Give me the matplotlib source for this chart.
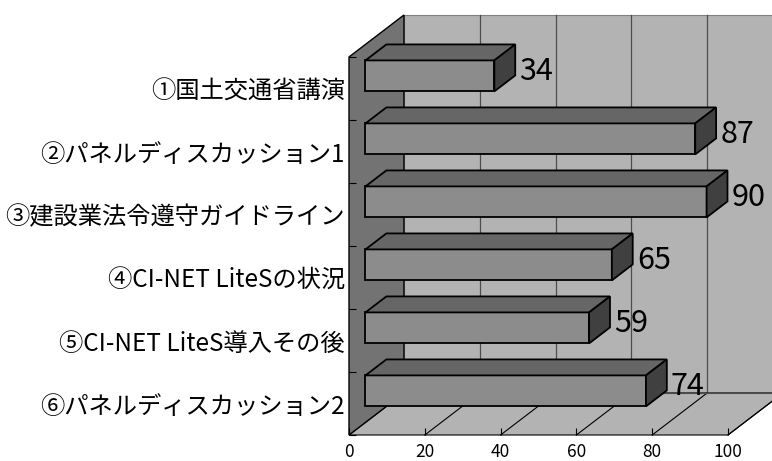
import matplotlib
matplotlib.use('Agg')
import matplotlib.pyplot as plt
from matplotlib.patches import Polygon
import numpy as np

plt.rcParams['font.family'] = ['Noto Sans CJK JP', 'DejaVu Sans']

categories = ['①国土交通省講演', '②パネルディスカッション1', '③建設業法令遵守ガイドライン',
              '④CI-NET LiteSの状況', '⑤CI-NET LiteS導入その後', '⑥パネルディスカッション2']
values = [34, 87, 90, 65, 59, 74]
xticks = [0, 20, 40, 60, 80, 100]

# oblique depth offset of the box (value units, category units)
DX, DY = 14.5, 0.667
F0, F1 = 0.3, 0.68      # front / back depth of the bars
HALF = 0.246            # half bar height

wall_left = '#737373'
wall_back = '#b3b3b3'
floor_c = '#b3b3b3'
face_front = '#8c8c8c'
face_top = '#666666'
face_side = '#404040'

fig = plt.figure(figsize=(7.72, 4.61), dpi=100)
ax = fig.add_axes([349 / 772, 26 / 461, 379 / 772, 378 / 461])
n = len(categories)
ax.set_xlim(0, 100)
ax.set_ylim(0, n)


def poly(pts, fc, z, ec='black', lw=1.0):
    ax.add_patch(Polygon(pts, closed=True, fc=fc, ec=ec, lw=lw, zorder=z, clip_on=False))


# walls and floor
poly([(DX, DY), (100 + DX, DY), (100 + DX, n + DY), (DX, n + DY)], wall_back, 1, ec='#808080', lw=0.8)
poly([(0, 0), (100, 0), (100 + DX, DY), (DX, DY)], floor_c, 1, lw=0.8)
poly([(0, 0), (DX, DY), (DX, n + DY), (0, n)], wall_left, 1, lw=1.0)

# gridlines on back wall and floor
for v in xticks[1:]:
    ax.plot([v + DX, v + DX], [DY, n + DY], color='#4d4d4d', lw=0.9, zorder=2, clip_on=False)
    ax.plot([v, v + DX], [0, DY], color='black', lw=0.8, zorder=2, clip_on=False)
ax.plot([DX, 100 + DX], [DY, DY], color='#4d4d4d', lw=0.8, zorder=2, clip_on=False)

# 3D bars, top to bottom
for i, v in enumerate(values):
    yc = n - i - 0.5
    y0 = yc - HALF
    y1 = yc + HALF
    x0f, x1f = F0 * DX, v + F0 * DX
    x0b, x1b = F1 * DX, v + F1 * DX
    z = 3 + i
    poly([(x0f, y0 + F0 * DY), (x1f, y0 + F0 * DY), (x1f, y1 + F0 * DY), (x0f, y1 + F0 * DY)],
         face_front, z, lw=1.3)
    poly([(x0f, y1 + F0 * DY), (x1f, y1 + F0 * DY), (x1b, y1 + F1 * DY), (x0b, y1 + F1 * DY)],
         face_top, z, lw=1.3)
    poly([(x1f, y0 + F0 * DY), (x1b, y0 + F1 * DY), (x1b, y1 + F1 * DY), (x1f, y1 + F0 * DY)],
         face_side, z, lw=1.3)
    ax.annotate(str(v), (x1b, yc + (F0 + F1) / 2 * DY), xytext=(3, 0), textcoords='offset points',
                ha='left', va='center_baseline', fontsize=22, zorder=20, annotation_clip=False)

for s in ax.spines.values():
    s.set_visible(False)
ax.set_facecolor('none')

ax.set_yticks([n - i - 0.5 for i in range(n)])
ax.set_yticklabels(categories, fontsize=17.5)
for lab in ax.get_yticklabels():
    lab.set_va('center_baseline')
ax.set_yticks(np.arange(n + 1), minor=True)
ax.tick_params(axis='y', which='major', length=0, pad=3)
ax.tick_params(axis='y', which='minor', direction='in', length=5, width=0.8)
ax.set_xticks(xticks)
ax.set_xticklabels([str(t) for t in xticks], fontsize=12.5)
ax.tick_params(axis='x', direction='in', length=5, width=0.8, pad=6)

fig.savefig('out.png', dpi=100)
